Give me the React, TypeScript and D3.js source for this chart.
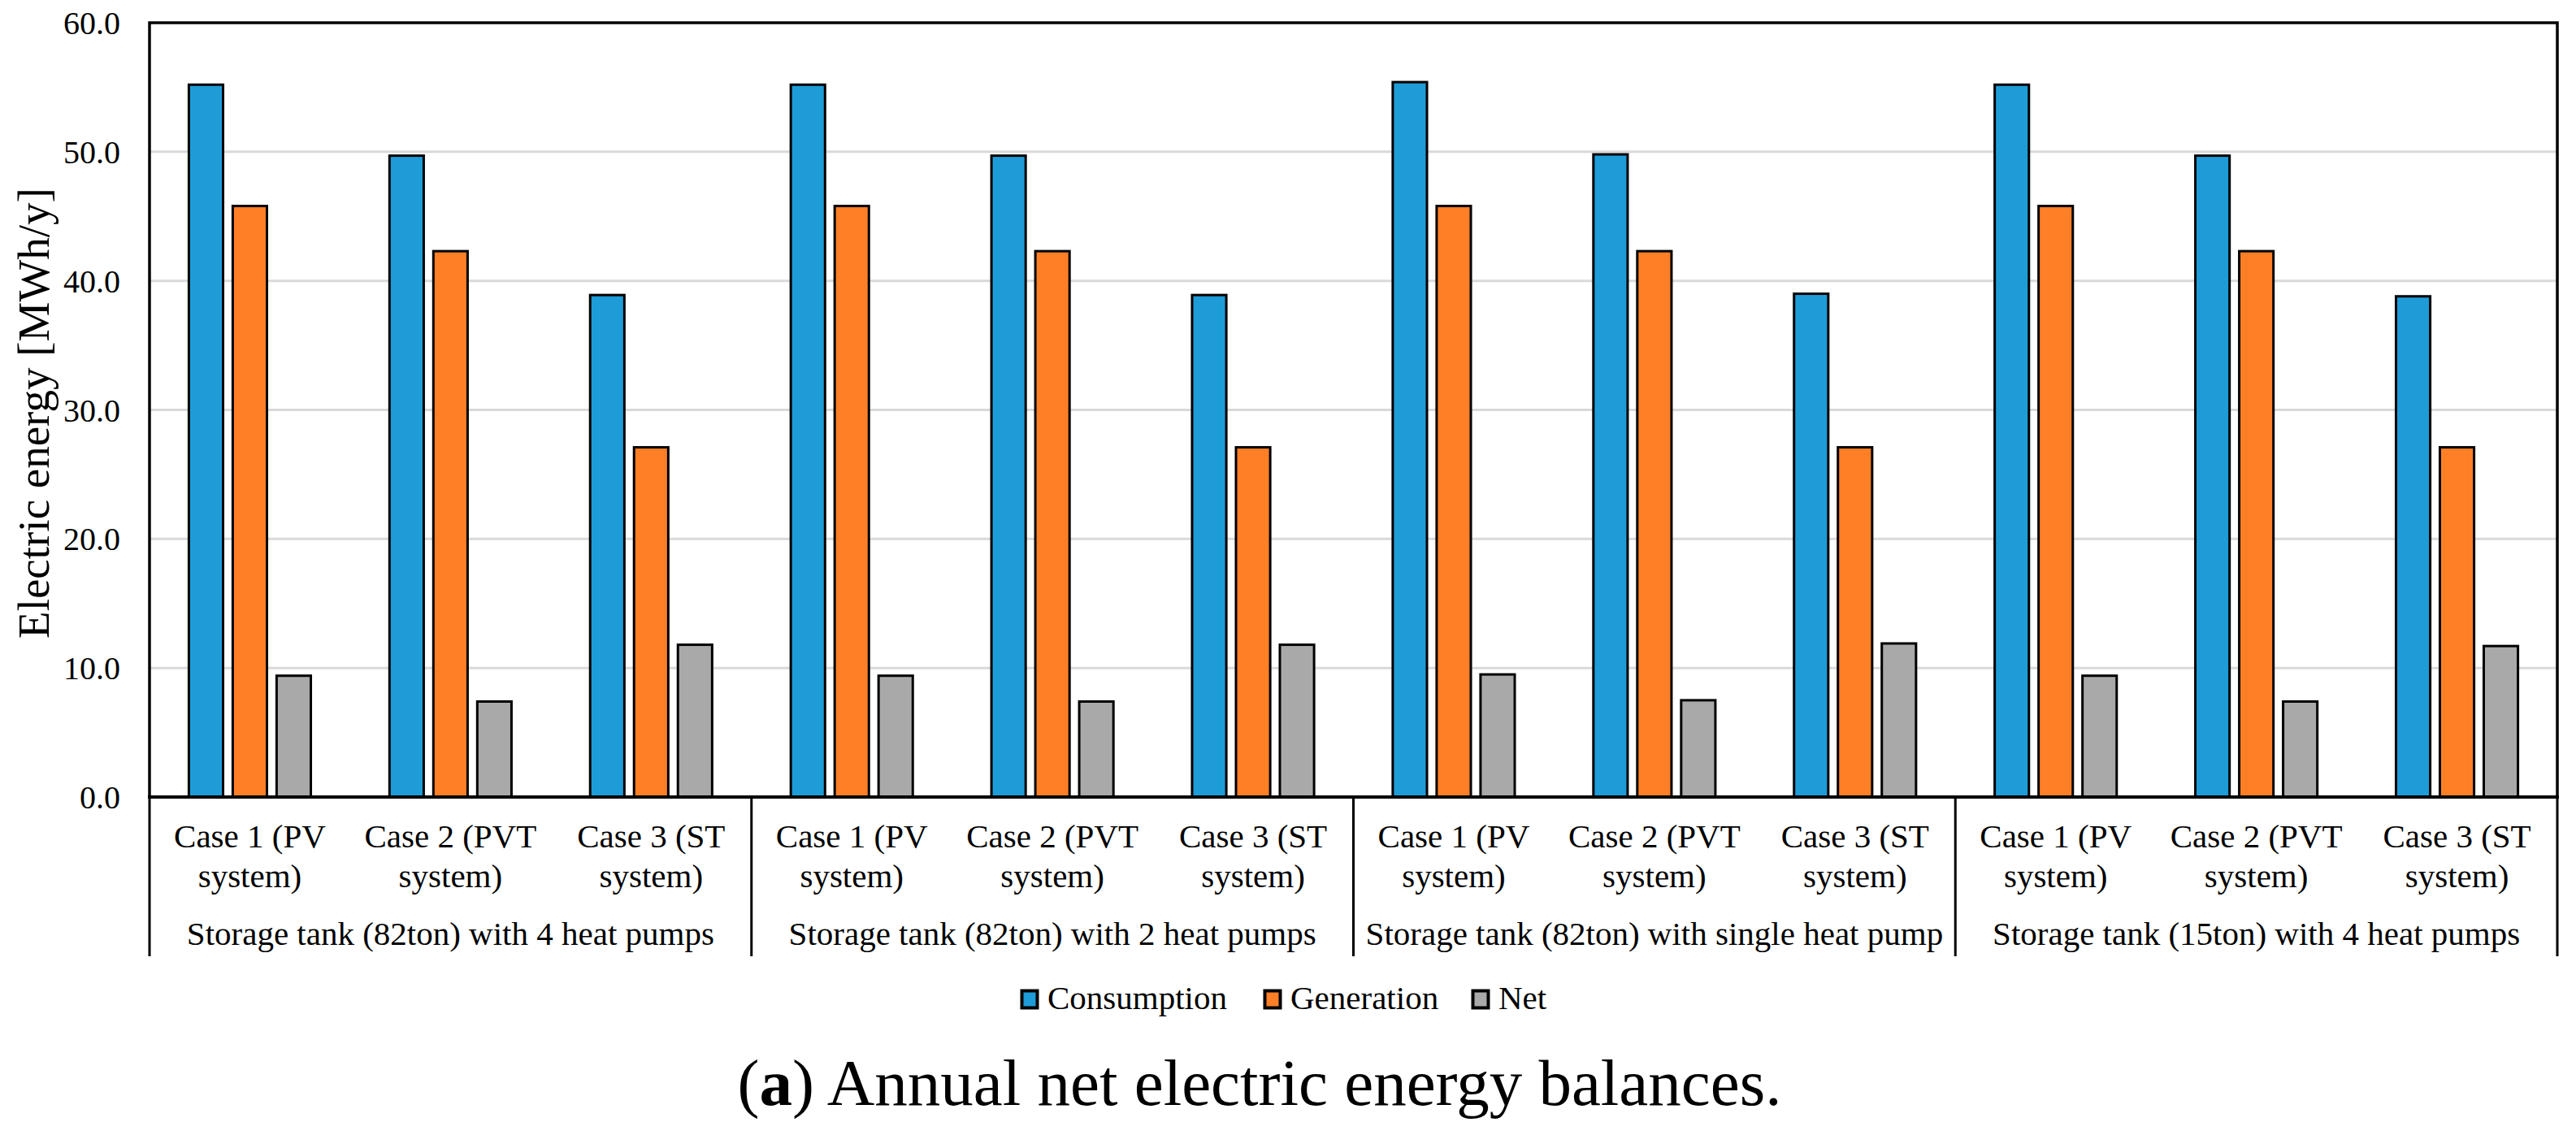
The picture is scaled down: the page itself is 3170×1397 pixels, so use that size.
import React from "react";
import * as d3 from "d3";

// ---- data ----
const groups = [
  "Storage tank (82ton) with 4 heat pumps",
  "Storage tank (82ton) with 2 heat pumps",
  "Storage tank (82ton) with single heat pump",
  "Storage tank (15ton) with 4 heat pumps",
];
const cases = [
  ["Case 1 (PV", "system)"],
  ["Case 2 (PVT", "system)"],
  ["Case 3 (ST", "system)"],
];
const seriesNames = ["Consumption", "Generation", "Net"];
const seriesColors = ["#1E9CD8", "#FF7F27", "#A9A9A9"];

const consumption = [55.2, 49.7, 38.9, 55.2, 49.7, 38.9, 55.4, 49.8, 39.0, 55.2, 49.7, 38.8];
const generation = [45.8, 42.3, 27.1, 45.8, 42.3, 27.1, 45.8, 42.3, 27.1, 45.8, 42.3, 27.1];
const net = [9.4, 7.4, 11.8, 9.4, 7.4, 11.8, 9.5, 7.5, 11.9, 9.4, 7.4, 11.7];

const yTicks = [0, 10, 20, 30, 40, 50, 60];
const yTitle = "Electric energy [MWh/y]";

// ---- layout ----
const W = 3170;
const H = 1397;
const left = 184;
const right = 3147;
const top = 28;
const bottom = 981;
const FONT = "'Liberation Serif', 'Times New Roman', serif";
const legendX = [1256, 1555, 1811];

export default function App() {
  const cats = groups.flatMap((g, gi) => cases.map((_, ci) => `${gi}-${ci}`));
  const values = [consumption, generation, net];

  const x0 = d3.scaleBand<string>().domain(cats).range([left, right]).paddingInner(0.392).paddingOuter(0.196);
  const x1 = d3.scaleBand<string>().domain(seriesNames).range([0, x0.bandwidth()]).paddingInner(0.22);
  const y = d3.scaleLinear().domain([0, 60]).range([bottom, top]);
  const fmt = d3.format(".1f");
  const step = x0.step();
  const groupEdges = d3.range(groups.length + 1).map((i) => left + i * 3 * step);

  return (
    <svg
      width={W}
      height={H}
      style={{ position: "absolute", left: 0, top: 0, background: "#fff" }}
      fontFamily={FONT}
    >
      {/* grid */}
      {yTicks.slice(1, -1).map((t) => (
        <line key={t} x1={left} x2={right} y1={y(t)} y2={y(t)} stroke="#D9D9D9" strokeWidth={3} />
      ))}

      {/* bars */}
      {cats.map((c, i) => (
        <g key={c} transform={`translate(${x0(c)},0)`}>
          {seriesNames.map((s, si) => (
            <rect
              key={s}
              x={x1(s)}
              y={y(values[si][i])}
              width={x1.bandwidth()}
              height={bottom - y(values[si][i])}
              fill={seriesColors[si]}
              stroke="#000"
              strokeWidth={3}
            />
          ))}
        </g>
      ))}

      {/* frame */}
      <path d={`M${left},${bottom}V${top}H${right}V${bottom}`} fill="none" stroke="#000" strokeWidth={3.5} />
      <line x1={left - 2} x2={right + 2} y1={bottom} y2={bottom} stroke="#000" strokeWidth={4} />

      {/* y tick labels */}
      {yTicks.map((t) => (
        <text key={t} x={148} y={y(t)} dy="0.35em" textAnchor="end" fontSize={40} fontFamily={FONT}>
          {fmt(t)}
        </text>
      ))}

      <text
        transform={`translate(60,${(top + bottom) / 2 + 4}) rotate(-90)`}
        textAnchor="middle"
        fontSize={55}
        fontFamily={FONT}
      >
        {yTitle}
      </text>

      {/* category labels */}
      {cats.map((c, i) => {
        const cx = (x0(c) as number) + x0.bandwidth() / 2;
        const lines = cases[i % cases.length];
        return (
          <text key={c} x={cx} textAnchor="middle" fontSize={41} fontFamily={FONT}>
            <tspan x={cx} y={1043}>{lines[0]}</tspan>
            <tspan x={cx} y={1092}>{lines[1]}</tspan>
          </text>
        );
      })}

      {/* group labels and separators */}
      {groups.map((g, gi) => (
        <text
          key={g}
          x={(groupEdges[gi] + groupEdges[gi + 1]) / 2}
          y={1163}
          textAnchor="middle"
          fontSize={41}
          fontFamily={FONT}
        >
          {g}
        </text>
      ))}
      {groupEdges.map((gx, i) => (
        <line key={i} x1={gx} x2={gx} y1={bottom} y2={1177} stroke="#000" strokeWidth={3} />
      ))}

      {/* legend */}
      {seriesNames.map((s, si) => (
        <g key={s} transform={`translate(${legendX[si]},1218)`}>
          <rect x={1.5} y={1.5} width={19} height={21} fill={seriesColors[si]} stroke="#000" strokeWidth={4} />
          <text x={33} y={24} fontSize={41} fontFamily={FONT}>
            {s}
          </text>
        </g>
      ))}

      {/* caption */}
      <text x={1550} y={1360} textAnchor="middle" fontSize={81} fontFamily={FONT}>
        <tspan>(</tspan>
        <tspan fontWeight="bold">a</tspan>
        <tspan>) Annual net electric energy balances.</tspan>
      </text>
    </svg>
  );
}
